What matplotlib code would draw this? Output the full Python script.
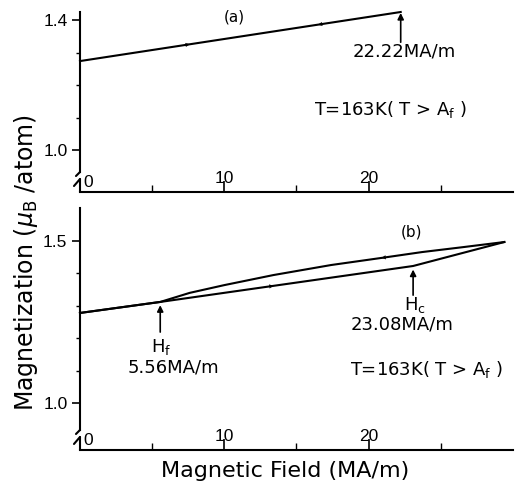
import numpy as np
import matplotlib
matplotlib.use('Agg')
import matplotlib.pyplot as plt

# (a) field sweep up to 22.22 MA/m, reversible
field_a = [0.0, 22.22]
mag_a = [1.274, 1.425]

# (b) field sweep up to ~29.4 MA/m with hysteresis between Hf and Hc
field_b_up = [0.0, 5.56, 23.08, 29.4]
mag_b_up = [1.278, 1.312, 1.423, 1.497]
field_b_down = [29.4, 26.5, 23.7, 20.9, 17.4, 13.4, 10.0, 7.6, 5.56, 0.0]
mag_b_down = [1.497, 1.481, 1.466, 1.448, 1.426, 1.395, 1.364, 1.340, 1.312, 1.278]

H_end_a = 22.22
H_f = 5.56
H_c = 23.08

x_major = [10, 20]
x_minor = [5, 15, 25]

tick_font = ['Liberation Sans Narrow', 'Liberation Sans']
text_font = 'DejaVu Sans'
LW = 1.5

fig = plt.figure(figsize=(5.15, 4.86), dpi=100)
ax_a = fig.add_axes([0.1553, 0.6049, 0.8408, 0.3704])
ax_b = fig.add_axes([0.1553, 0.0741, 0.8408, 0.4979])


def style_axes(ax, ylim, yticks, yminor):
    ax.set_xlim(0, 30)
    ax.set_ylim(*ylim)
    ax.spines['top'].set_visible(False)
    ax.spines['right'].set_visible(False)
    for s in ('left', 'bottom'):
        ax.spines[s].set_linewidth(LW)
    ax.set_xticks(x_major)
    ax.set_xticks(x_minor, minor=True)
    ax.set_yticks(yticks)
    ax.set_yticks(yminor, minor=True)
    ax.set_yticklabels(['%.1f' % v for v in yticks])
    ax.tick_params(axis='x', which='major', direction='in', length=8, width=1.2, pad=-15)
    ax.tick_params(axis='x', which='minor', direction='in', length=5, width=1.0)
    ax.tick_params(axis='y', which='major', direction='out', length=6, width=1.2, pad=3)
    ax.tick_params(axis='y', which='minor', direction='out', length=3, width=1.0)
    for lbl in ax.get_xticklabels() + ax.get_yticklabels():
        lbl.set_fontfamily(tick_font)
        lbl.set_fontsize(12.5)

    h = ax.bbox.height
    w = ax.bbox.width
    ax.text(3.5 / w, 2 / h, '0', transform=ax.transAxes, ha='left', va='bottom',
            fontsize=12.5, family=tick_font)

    # broken y axis near the origin
    top_gap = 20 / h
    low_gap = 13 / h
    ax.spines['left'].set_bounds(ylim[0] + (ylim[1] - ylim[0]) * top_gap, ylim[1])
    kw = dict(transform=ax.transAxes, color='black', lw=LW, clip_on=False,
              solid_capstyle='round')
    ax.plot([0, 0], [0, low_gap], **kw)
    ax.plot([0, -4 / w], [top_gap, top_gap - 4 / h], **kw)
    ax.plot([-6 / w, 0], [low_gap - 7 / h, low_gap], **kw)


style_axes(ax_a, (0.871, 1.425), [1.0, 1.4], [1.1, 1.2, 1.3])
style_axes(ax_b, (0.855, 1.602), [1.0, 1.5], [1.1, 1.2, 1.3, 1.4])


def head(ax, xs, ys, x, direction):
    # small arrowhead sitting on the curve, pointing along the sweep
    order = np.argsort(xs)
    xs_s = np.asarray(xs)[order]
    ys_s = np.asarray(ys)[order]
    d = 0.6 * direction
    y0 = np.interp(x - d, xs_s, ys_s)
    y1 = np.interp(x, xs_s, ys_s)
    ax.annotate('', xy=(x, y1), xytext=(x - d, y0),
                arrowprops=dict(arrowstyle='-|>', color='black', lw=0.1,
                                mutation_scale=7, shrinkA=0, shrinkB=0))


# panel (a)
ax_a.plot(field_a, mag_a, color='black', lw=LW, clip_on=False)
head(ax_a, field_a, mag_a, 7.6, 1)
head(ax_a, field_a, mag_a, 16.5, -1)
ax_a.annotate('', xy=(H_end_a, 1.422), xytext=(H_end_a, 1.332),
              arrowprops=dict(arrowstyle='-|>', color='black', lw=1.2,
                              mutation_scale=9, shrinkA=0, shrinkB=0),
              annotation_clip=False)
ax_a.text(22.5, 1.302, '22.22MA/m', ha='center', va='center', fontsize=13, family=text_font)
ax_a.text(21.5, 1.126, r'T=163K( T > A$_\mathrm{f}$ )', ha='center', va='center',
          fontsize=13, family=text_font)
ax_a.text(10.7, 1.409, '(a)', ha='center', va='center', fontsize=11, family=text_font)

# panel (b)
ax_b.plot(field_b_up, mag_b_up, color='black', lw=LW, clip_on=False)
ax_b.plot(field_b_down, mag_b_down, color='black', lw=LW, clip_on=False)
head(ax_b, field_b_up, mag_b_up, 13.4, 1)
head(ax_b, field_b_down, mag_b_down, 20.9, -1)
for hx, ytip, ytail in [(H_f, 1.302, 1.219), (H_c, 1.412, 1.333)]:
    ax_b.annotate('', xy=(hx, ytip), xytext=(hx, ytail),
                  arrowprops=dict(arrowstyle='-|>', color='black', lw=1.2,
                                  mutation_scale=9, shrinkA=0, shrinkB=0))
ax_b.text(5.6, 1.173, r'H$_\mathrm{f}$', ha='center', va='center', fontsize=13, family=text_font)
ax_b.text(6.5, 1.111, '5.56MA/m', ha='center', va='center', fontsize=13, family=text_font)
ax_b.text(23.2, 1.302, r'H$_\mathrm{c}$', ha='center', va='center', fontsize=13, family=text_font)
ax_b.text(22.3, 1.241, '23.08MA/m', ha='center', va='center', fontsize=13, family=text_font)
ax_b.text(24.0, 1.102, r'T=163K( T > A$_\mathrm{f}$ )', ha='center', va='center',
          fontsize=13, family=text_font)
ax_b.text(23.0, 1.528, '(b)', ha='center', va='center', fontsize=11, family=text_font)

fig.text(26 / 515, 1 - 263 / 486, r'Magnetization ($\mu_\mathrm{B}$ /atom)', rotation=90,
         ha='center', va='center', fontsize=17, family=text_font)
fig.text(285 / 515, 1 - 471 / 486, 'Magnetic Field (MA/m)', ha='center', va='center',
         fontsize=16, family=text_font)

fig.savefig('out.png', dpi=100)
